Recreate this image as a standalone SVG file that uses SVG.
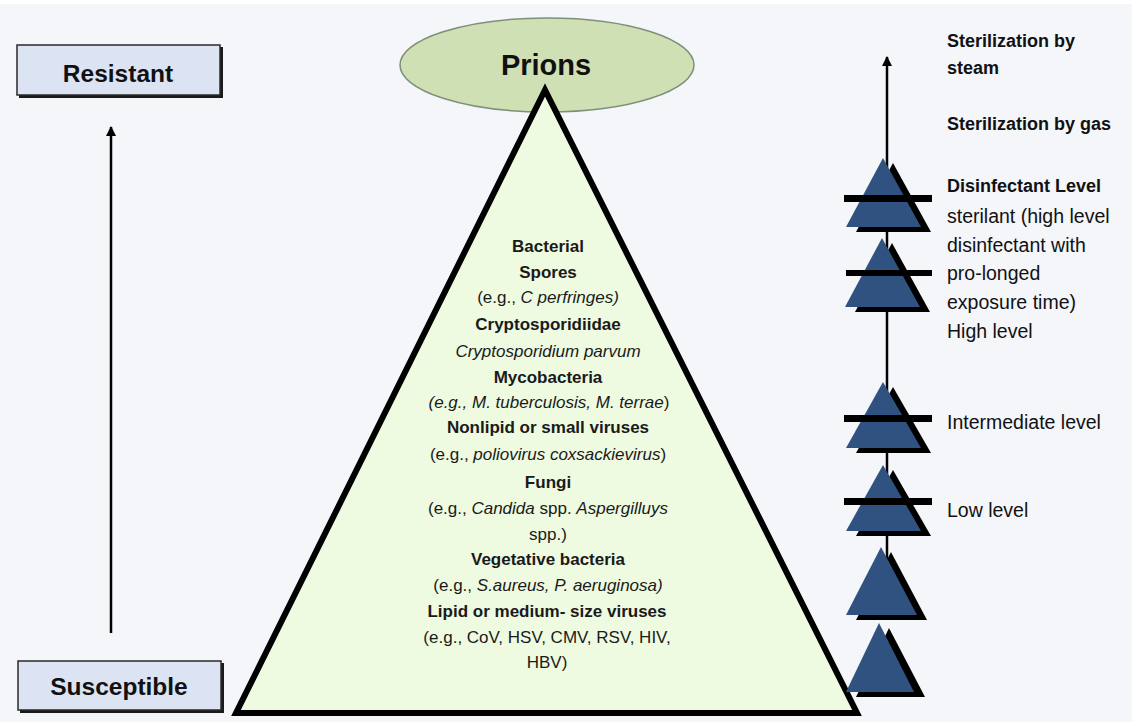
<svg xmlns="http://www.w3.org/2000/svg" width="1132" height="722" viewBox="0 0 1132 722">
<defs>
<style>
.bg{fill:#f4f6fa}
.box{fill:#dce3f3;stroke:#2a2a2a;stroke-width:1.5}
.boxsh{fill:#1a1a1a}
.lbl{font-family:"Liberation Sans",Arial,sans-serif;font-weight:bold;font-size:24.5px;fill:#111;text-anchor:middle}
.pt{font-family:"Liberation Sans",Arial,sans-serif;font-size:17px;fill:#1a1a1a;text-anchor:middle}
.b{font-weight:bold}
.i{font-style:italic}
.rb{font-family:"Liberation Sans",Arial,sans-serif;font-size:18px;font-weight:bold;fill:#111}
.rr{font-family:"Liberation Sans",Arial,sans-serif;font-size:19.5px;fill:#111}
.tri{fill:#2f5281}
.sh{fill:#000}
.bar{fill:#000}
.conn{stroke:#000;stroke-width:2.5;fill:none}
</style>
<marker id="ah" viewBox="0 0 10 10" refX="9" refY="5" markerWidth="4" markerHeight="4" orient="auto" markerUnits="strokeWidth">
<path d="M0,0 L10,5 L0,10 z" fill="#000"/>
</marker>
</defs>
<rect x="0" y="0" width="1132" height="722" fill="#ffffff"/>
<rect class="bg" x="0" y="4" width="1132" height="718"/>

<g id="connectors">
<line class="conn" x1="111" y1="633" x2="111" y2="127" marker-end="url(#ah)"/>
<line class="conn" x1="887" y1="572" x2="887" y2="57" marker-end="url(#ah)"/>
</g>

<g id="resistant">
<rect class="boxsh" x="19" y="47" width="204" height="51"/>
<rect class="box" x="17" y="45" width="203" height="50"/>
<text class="lbl" x="118" y="82">Resistant</text>
</g>

<g id="susceptible">
<rect class="boxsh" x="20" y="663" width="204" height="50"/>
<rect class="box" x="18" y="661" width="203" height="49"/>
<text class="lbl" x="119" y="695">Susceptible</text>
</g>

<g id="prions">
<ellipse cx="547" cy="65" rx="147" ry="47" fill="#cfe0b4" stroke="#7f8f7a" stroke-width="1.5"/>
<text x="546" y="75" font-family="Liberation Sans, Arial, sans-serif" font-size="29" font-weight="bold" fill="#111" text-anchor="middle">Prions</text>
</g>

<g id="pyramid">
<polygon points="545,90 236,713 857,713" fill="#eefbe1" stroke="#000" stroke-width="6" stroke-linejoin="miter"/>
<text class="pt b" x="548" y="252">Bacterial</text>
<text class="pt b" x="548" y="278">Spores</text>
<text class="pt" x="548" y="303">(e.g., <tspan class="i">C perfringes)</tspan></text>
<text class="pt b" x="548" y="330">Cryptosporidiidae</text>
<text class="pt i" x="548" y="357">Cryptosporidium parvum</text>
<text class="pt b" x="548" y="383">Mycobacteria</text>
<text class="pt" x="549" y="408"><tspan class="i">(e.g., M. tuberculosis, M. terrae</tspan>)</text>
<text class="pt b" x="548" y="433">Nonlipid or small viruses</text>
<text class="pt" x="548" y="460">(e.g., <tspan class="i">poliovirus coxsackievirus</tspan>)</text>
<text class="pt b" x="548" y="488">Fungi</text>
<text class="pt" x="548" y="514">(e.g., <tspan class="i">Candida</tspan> spp. <tspan class="i">Aspergilluys</tspan></text>
<text class="pt" x="548" y="540">spp.)</text>
<text class="pt b" x="548" y="565">Vegetative bacteria</text>
<text class="pt" x="548" y="591">(e.g., <tspan class="i">S.aureus, P. aeruginosa)</tspan></text>
<text class="pt b" x="547" y="617">Lipid or medium- size viruses</text>
<text class="pt" x="547" y="643">(e.g., CoV, HSV, CMV, RSV, HIV,</text>
<text class="pt" x="547" y="668">HBV)</text>
</g>

<g id="level-markers">
<g id="marker-1">
<polygon class="sh" points="893,163 856,232 931,232"/>
<polygon class="tri" points="883,158 846,227 921,227"/>
<rect class="bar" x="844" y="195" width="88" height="7"/>
</g>
<g id="marker-2">
<polygon class="sh" points="892,243 855,312 930,312"/>
<polygon class="tri" points="882,238 845,307 920,307"/>
<rect class="bar" x="846" y="270" width="86" height="6"/>
</g>
<g id="marker-3">
<polygon class="sh" points="893,387 856,453 931,453"/>
<polygon class="tri" points="883,382 846,448 921,448"/>
<rect class="bar" x="844" y="415" width="88" height="7"/>
</g>
<g id="marker-4">
<polygon class="sh" points="893,470 856,536 931,536"/>
<polygon class="tri" points="883,465 846,531 921,531"/>
<rect class="bar" x="844" y="498" width="88" height="7"/>
</g>
<g id="marker-5">
<polygon class="sh" points="891,552 856,620 927,620"/>
<polygon class="tri" points="881,547 846,615 917,615"/>
</g>
<g id="marker-6">
<polygon class="sh" points="889,628 856,697 925,697"/>
<polygon class="tri" points="879,623 846,692 914,692"/>
</g>
</g>

<g id="level-labels">
<text class="rb" x="947" y="47">Sterilization by</text>
<text class="rb" x="947" y="74">steam</text>
<text class="rb" x="947" y="130">Sterilization by gas</text>
<text class="rb" x="947" y="192">Disinfectant Level</text>
<text class="rr" x="947" y="223">sterilant (high level</text>
<text class="rr" x="947" y="252">disinfectant with</text>
<text class="rr" x="947" y="280">pro-longed</text>
<text class="rr" x="947" y="309">exposure time)</text>
<text class="rr" x="947" y="338">High level</text>
<text class="rr" x="947" y="429">Intermediate level</text>
<text class="rr" x="947" y="517">Low level</text>
</g>
</svg>
